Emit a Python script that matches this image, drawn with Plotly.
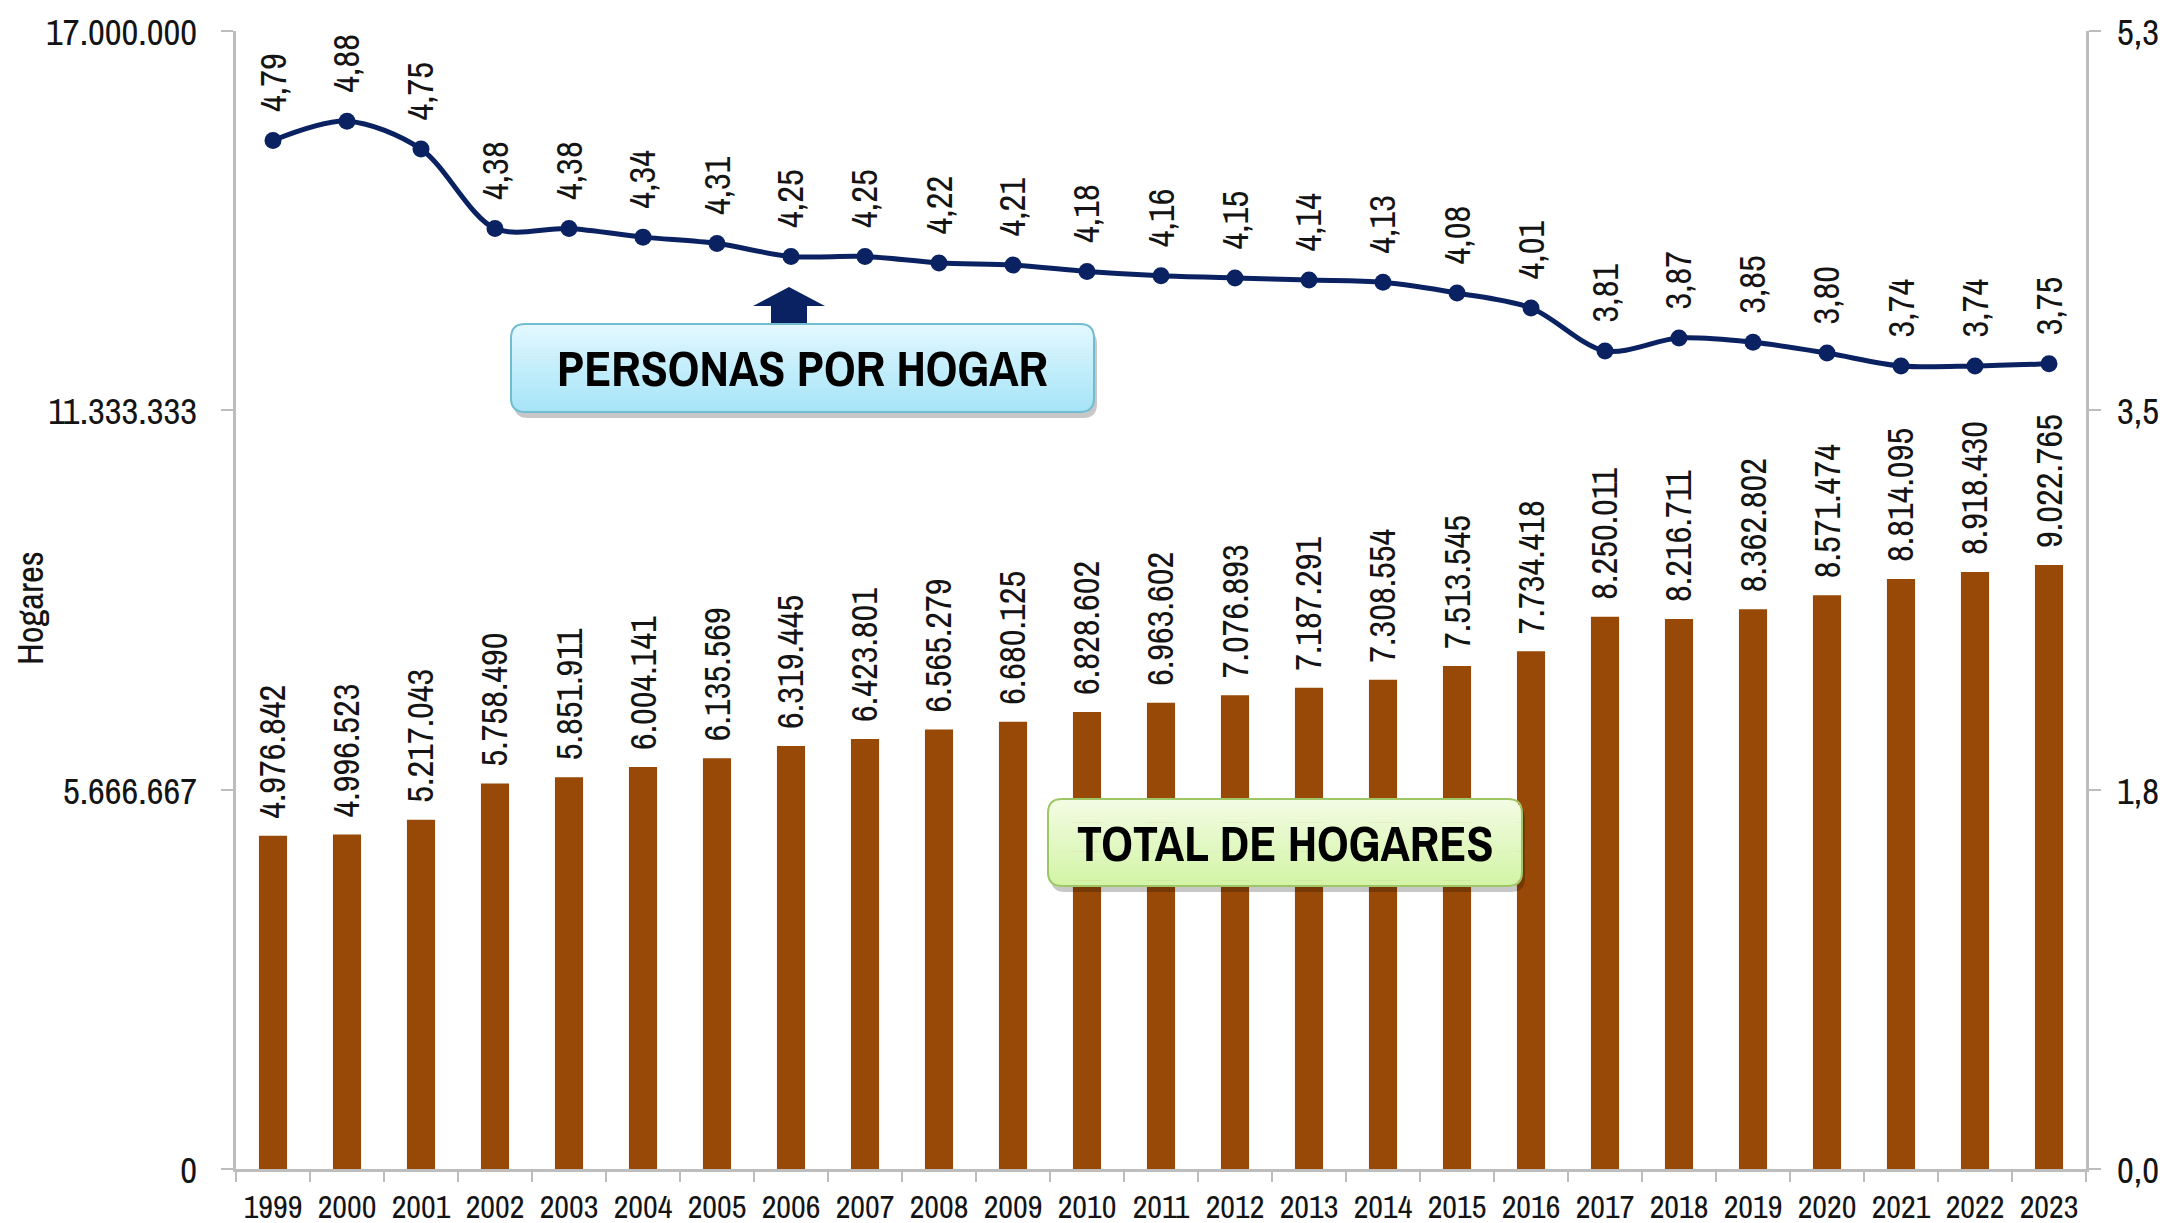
import math
import plotly.graph_objects as go

# ---------------- data ----------------
years = ["1999", "2000", "2001", "2002", "2003", "2004", "2005", "2006", "2007",
         "2008", "2009", "2010", "2011", "2012", "2013", "2014", "2015", "2016",
         "2017", "2018", "2019", "2020", "2021", "2022", "2023"]
total_hogares = [4976842, 4996523, 5217043, 5758490, 5851911, 6004141, 6135569,
                 6319445, 6423801, 6565279, 6680125, 6828602, 6963602, 7076893,
                 7187291, 7308554, 7513545, 7734418, 8250011, 8216711, 8362802,
                 8571474, 8814095, 8918430, 9022765]
personas_por_hogar = [4.79, 4.88, 4.75, 4.38, 4.38, 4.34, 4.31, 4.25, 4.25, 4.22,
                      4.21, 4.18, 4.16, 4.15, 4.14, 4.13, 4.08, 4.01, 3.81, 3.87,
                      3.85, 3.80, 3.74, 3.74, 3.75]
left_tickvals = [0, 17000000 / 3, 2 * 17000000 / 3, 17000000]
left_ticktext = ["0", "5.666.667", "11.333.333", "17.000.000"]
right_tickvals = [0, 5.3 / 3, 2 * 5.3 / 3, 5.3]
right_ticktext = ["0,0", "1,8", "3,5", "5,3"]

# ---------------- style ----------------
W, H = 2168, 1223
PL, PR, PT, PB = 236, 2086, 31, 1169  # plot area in pixels
FONT = "Pragati Narrow, Archivo Narrow, Roboto Condensed, Liberation Sans, sans-serif"
BAR_COLOR = "#984807"
LINE_COLOR = "#0B2262"
AXIS_COLOR = "#BDBDBD"
TEXT_COLOR = "#141414"
LABEL_SIZE = 40


def px_x(x):
    return (x - PL) / (PR - PL)


def px_y(y):
    return (PB - y) / (PB - PT)


def fmt_int(v):
    return f"{v:,}".replace(",", ".")


def fmt_dec(v):
    return f"{v:.2f}".replace(".", ",")


fig = go.Figure()
fig.add_trace(go.Bar(
    x=years, y=total_hogares, marker=dict(color=BAR_COLOR, line=dict(width=0)),
    width=0.38, name="Total de hogares", yaxis="y", hoverinfo="x+y"))
fig.add_trace(go.Scatter(
    x=years, y=personas_por_hogar, mode="lines+markers", yaxis="y2",
    line=dict(color=LINE_COLOR, width=5, shape="spline", smoothing=0.9),
    marker=dict(color=LINE_COLOR, size=17), name="Personas por hogar"))

annotations = []
for i, v in enumerate(total_hogares):
    annotations.append(dict(x=i, y=v, xref="x", yref="y", text=fmt_int(v),
                            textangle=-90, showarrow=False, yanchor="bottom",
                            xanchor="center", yshift=15,
                            font=dict(family=FONT, size=LABEL_SIZE, color=TEXT_COLOR)))
for i, v in enumerate(personas_por_hogar):
    annotations.append(dict(x=i, y=v, xref="x", yref="y2", text=fmt_dec(v),
                            textangle=-90, showarrow=False, yanchor="bottom",
                            xanchor="center", yshift=26,
                            font=dict(family=FONT, size=LABEL_SIZE, color=TEXT_COLOR)))

shapes = []


def rounded_path(x0, y0, x1, y1, r):
    def P(x, y):
        return f"{px_x(x):.6f},{px_y(y):.6f}"
    return (f"M {P(x0 + r, y0)} L {P(x1 - r, y0)} Q {P(x1, y0)} {P(x1, y0 + r)} "
            f"L {P(x1, y1 - r)} Q {P(x1, y1)} {P(x1 - r, y1)} "
            f"L {P(x0 + r, y1)} Q {P(x0, y1)} {P(x0, y1 - r)} "
            f"L {P(x0, y0 + r)} Q {P(x0, y0)} {P(x0 + r, y0)} Z")


def hex2rgb(h):
    h = h.lstrip("#")
    return tuple(int(h[i:i + 2], 16) for i in (0, 2, 4))


def gradient_box(x0, y0, x1, y1, r, top, bottom, border, n=30):
    shapes.append(dict(type="path", xref="paper", yref="paper",
                       path=rounded_path(x0 + 3, y0 + 6, x1 + 3, y1 + 6, r),
                       fillcolor="rgba(0,0,0,0.22)", line=dict(width=0), layer="above"))
    t, b = hex2rgb(top), hex2rgb(bottom)
    h = (y1 - y0) / n
    for i in range(n):
        ya, yb = y0 + i * h, y0 + (i + 1) * h
        ym = (ya + yb) / 2
        if ym < y0 + r:
            d = y0 + r - ym
            inset = r - math.sqrt(max(r * r - d * d, 0))
        elif ym > y1 - r:
            d = ym - (y1 - r)
            inset = r - math.sqrt(max(r * r - d * d, 0))
        else:
            inset = 0
        f = i / (n - 1)
        c = tuple(round(t[k] + (b[k] - t[k]) * f) for k in range(3))
        shapes.append(dict(type="rect", xref="paper", yref="paper",
                           x0=px_x(x0 + inset), x1=px_x(x1 - inset),
                           y0=px_y(yb + 0.6), y1=px_y(ya),
                           fillcolor=f"rgb{c}", line=dict(width=0), layer="above"))
    shapes.append(dict(type="path", xref="paper", yref="paper",
                       path=rounded_path(x0, y0, x1, y1, r),
                       fillcolor="rgba(0,0,0,0)", line=dict(color=border, width=2),
                       layer="above"))


ax_pts = [(789, 287), (825, 306), (807, 306), (807, 324), (771, 324), (771, 306), (753, 306)]
shapes.append(dict(type="path", xref="paper", yref="paper",
                   path="M " + " L ".join(f"{px_x(x):.6f},{px_y(y):.6f}" for x, y in ax_pts) + " Z",
                   fillcolor=LINE_COLOR, line=dict(width=0), layer="above"))

gradient_box(511, 324, 1094, 412, 14, "#E2F8FE", "#A6E4F8", "#72BCD2")
gradient_box(1048, 799, 1522, 886, 14, "#F3FCE3", "#D3F4A6", "#9EC667")

annotations.append(dict(xref="paper", yref="paper", x=px_x(802), y=px_y(369),
                        xanchor="center", yanchor="middle",
                        text="<b>PERSONAS POR HOGAR</b>", showarrow=False,
                        font=dict(family=FONT, size=54, color="#000000")))
annotations.append(dict(xref="paper", yref="paper", x=px_x(1285), y=px_y(844),
                        xanchor="center", yanchor="middle",
                        text="<b>TOTAL DE HOGARES</b>", showarrow=False,
                        font=dict(family=FONT, size=54, color="#000000")))
annotations.append(dict(xref="paper", yref="paper", x=px_x(31), y=px_y(608),
                        xanchor="center", yanchor="middle",
                        text="Hogares", textangle=-90, showarrow=False,
                        font=dict(family=FONT, size=40, color=TEXT_COLOR)))

fig.update_layout(
    width=W, height=H,
    margin=dict(l=PL, r=W - PR, t=PT, b=H - PB, autoexpand=False),
    paper_bgcolor="white", plot_bgcolor="white",
    showlegend=False,
    font=dict(family=FONT, color=TEXT_COLOR),
    xaxis=dict(type="category", range=[-0.5, len(years) - 0.5], autorange=False,
               automargin=False, ticklabeloverflow="allow",
               showgrid=False, showline=True, linecolor=AXIS_COLOR,
               linewidth=3, ticks="outside", tickson="boundaries", ticklen=10,
               tickwidth=2, tickcolor=AXIS_COLOR, ticklabelstandoff=4, tickangle=0,
               tickfont=dict(family=FONT, size=35, color=TEXT_COLOR), zeroline=False),
    yaxis=dict(range=[0, 17000000], tickvals=left_tickvals, ticktext=left_ticktext,
               automargin=False, ticklabeloverflow="allow",
               showgrid=False, showline=True, linecolor=AXIS_COLOR, linewidth=3,
               ticks="outside", ticklen=12, tickwidth=2, tickcolor=AXIS_COLOR,
               ticklabelstandoff=16, zeroline=False,
               tickfont=dict(family=FONT, size=LABEL_SIZE, color=TEXT_COLOR)),
    yaxis2=dict(range=[0, 5.3], tickvals=right_tickvals, ticktext=right_ticktext,
                automargin=False, ticklabeloverflow="allow",
                overlaying="y", side="right", showgrid=False, showline=True,
                linecolor=AXIS_COLOR, linewidth=3, ticks="outside", ticklen=12,
                tickwidth=2, tickcolor=AXIS_COLOR, ticklabelstandoff=8, zeroline=False,
                tickfont=dict(family=FONT, size=LABEL_SIZE, color=TEXT_COLOR)),
    annotations=annotations,
    shapes=shapes,
)

fig.write_html("out.html", config={"displayModeBar": False},
               post_script="document.body.style.margin='0';")
